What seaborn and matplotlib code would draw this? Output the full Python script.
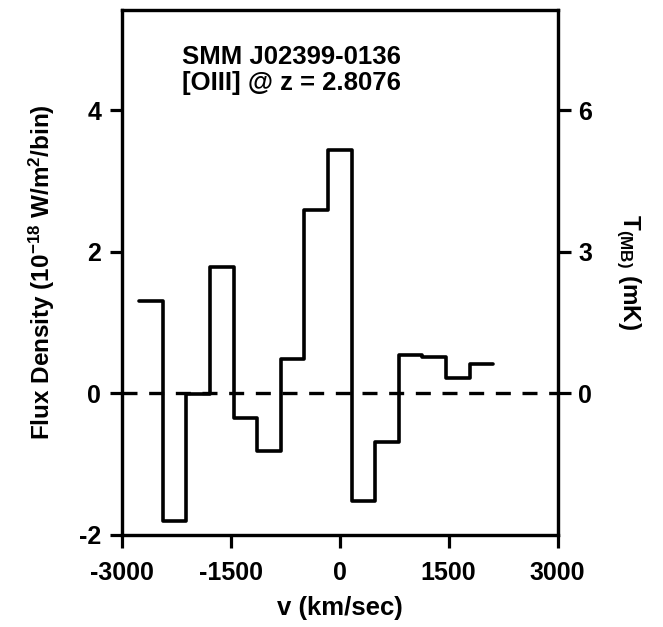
import numpy as np
import pandas as pd
import matplotlib
matplotlib.use("Agg")
import matplotlib.pyplot as plt
import seaborn as sns

# Data
bin_centers = [-2600, -2275, -1950, -1625, -1300, -975, -650, -325, 0, 325, 650, 975, 1300, 1625, 1950]
flux = [1.30, -1.80, -0.01, 1.78, -0.35, -0.81, 0.49, 2.59, 3.44, -1.52, -0.69, 0.54, 0.51, 0.22, 0.42]
bin_width = 325
x_ticks = [-3000, -1500, 0, 1500, 3000]
x_tick_labels = ["-3000", "-1500", "0", "1500", "3000"]
y_ticks_left = [-2, 0, 2, 4]
y_ticks_right = [0, 3, 6]
tmb_per_flux = 1.5
title_lines = ["SMM J02399-0136", "[OIII] @ z = 2.8076"]

sns.set_style("ticks")
plt.rcParams['font.family'] = ['Liberation Sans', 'DejaVu Sans']
plt.rcParams['font.weight'] = 'bold'
plt.rcParams['text.color'] = 'black'
plt.rcParams['axes.labelcolor'] = 'black'
plt.rcParams['xtick.color'] = 'black'
plt.rcParams['ytick.color'] = 'black'
plt.rcParams['axes.edgecolor'] = 'black'
plt.rcParams['mathtext.fontset'] = 'custom'
plt.rcParams['mathtext.rm'] = 'Liberation Sans:bold'
plt.rcParams['mathtext.bf'] = 'Liberation Sans:bold'
plt.rcParams['mathtext.it'] = 'Liberation Sans:bold'
plt.rcParams['mathtext.default'] = 'bf'

edges = [c - bin_width / 2 for c in bin_centers] + [bin_centers[-1] + bin_width / 2]
df = pd.DataFrame({"v": edges, "flux": flux + [flux[-1]]})

fig = plt.figure(figsize=(6.63, 6.27), dpi=100)
ax = fig.add_axes([0.184, 0.147, 0.657, 0.837])

sns.lineplot(data=df, x="v", y="flux", drawstyle="steps-post", color="black",
             linewidth=2.6, estimator=None, sort=False, ax=ax)
ax.axhline(0, color="black", linewidth=2.4, linestyle=(0, (4.5, 3.5)))

ax.set_xlim(-3000, 3000)
ax.set_ylim(-2, 5.42)
ax.set_xticks(x_ticks)
ax.set_xticklabels(x_tick_labels)
ax.set_yticks(y_ticks_left)
ax.set_yticklabels([str(t) for t in y_ticks_left])

for s in ax.spines.values():
    s.set_linewidth(2.3)
    s.set_color("black")
ax.tick_params(axis="both", direction="out", length=9, width=2.3, labelsize=18, pad=6,
               colors="black")
ax.tick_params(axis="x", pad=10)

ax.set_xlabel("v (km/sec)", fontsize=18.5, fontweight="bold", labelpad=8)
ax.set_ylabel("Flux Density (10$^{-18}$ W/m$^{2}$/bin)", fontsize=17.5,
              fontweight="bold", labelpad=16)

ax2 = ax.twinx()
ax2.set_ylim(-2 * tmb_per_flux, 5.42 * tmb_per_flux)
ax2.set_yticks(y_ticks_right)
ax2.set_yticklabels([str(t) for t in y_ticks_right])
ax2.tick_params(axis="y", direction="out", length=9, width=2.3, labelsize=18, pad=6,
                colors="black")
for s in ax2.spines.values():
    s.set_linewidth(2.3)
    s.set_color("black")
ax2.set_ylabel("T$_{(MB)}$ (mK)", fontsize=17.5, fontweight="bold",
               rotation=270, labelpad=36)

ax.text(0.137, 0.933, title_lines[0] + "\n" + title_lines[1], transform=ax.transAxes,
        fontsize=18.5, fontweight="bold", va="top", ha="left", linespacing=1.08,
        color="black")

for lab in ax.get_xticklabels() + ax.get_yticklabels() + ax2.get_yticklabels():
    lab.set_fontweight("bold")

fig.savefig("out.png", dpi=100)
